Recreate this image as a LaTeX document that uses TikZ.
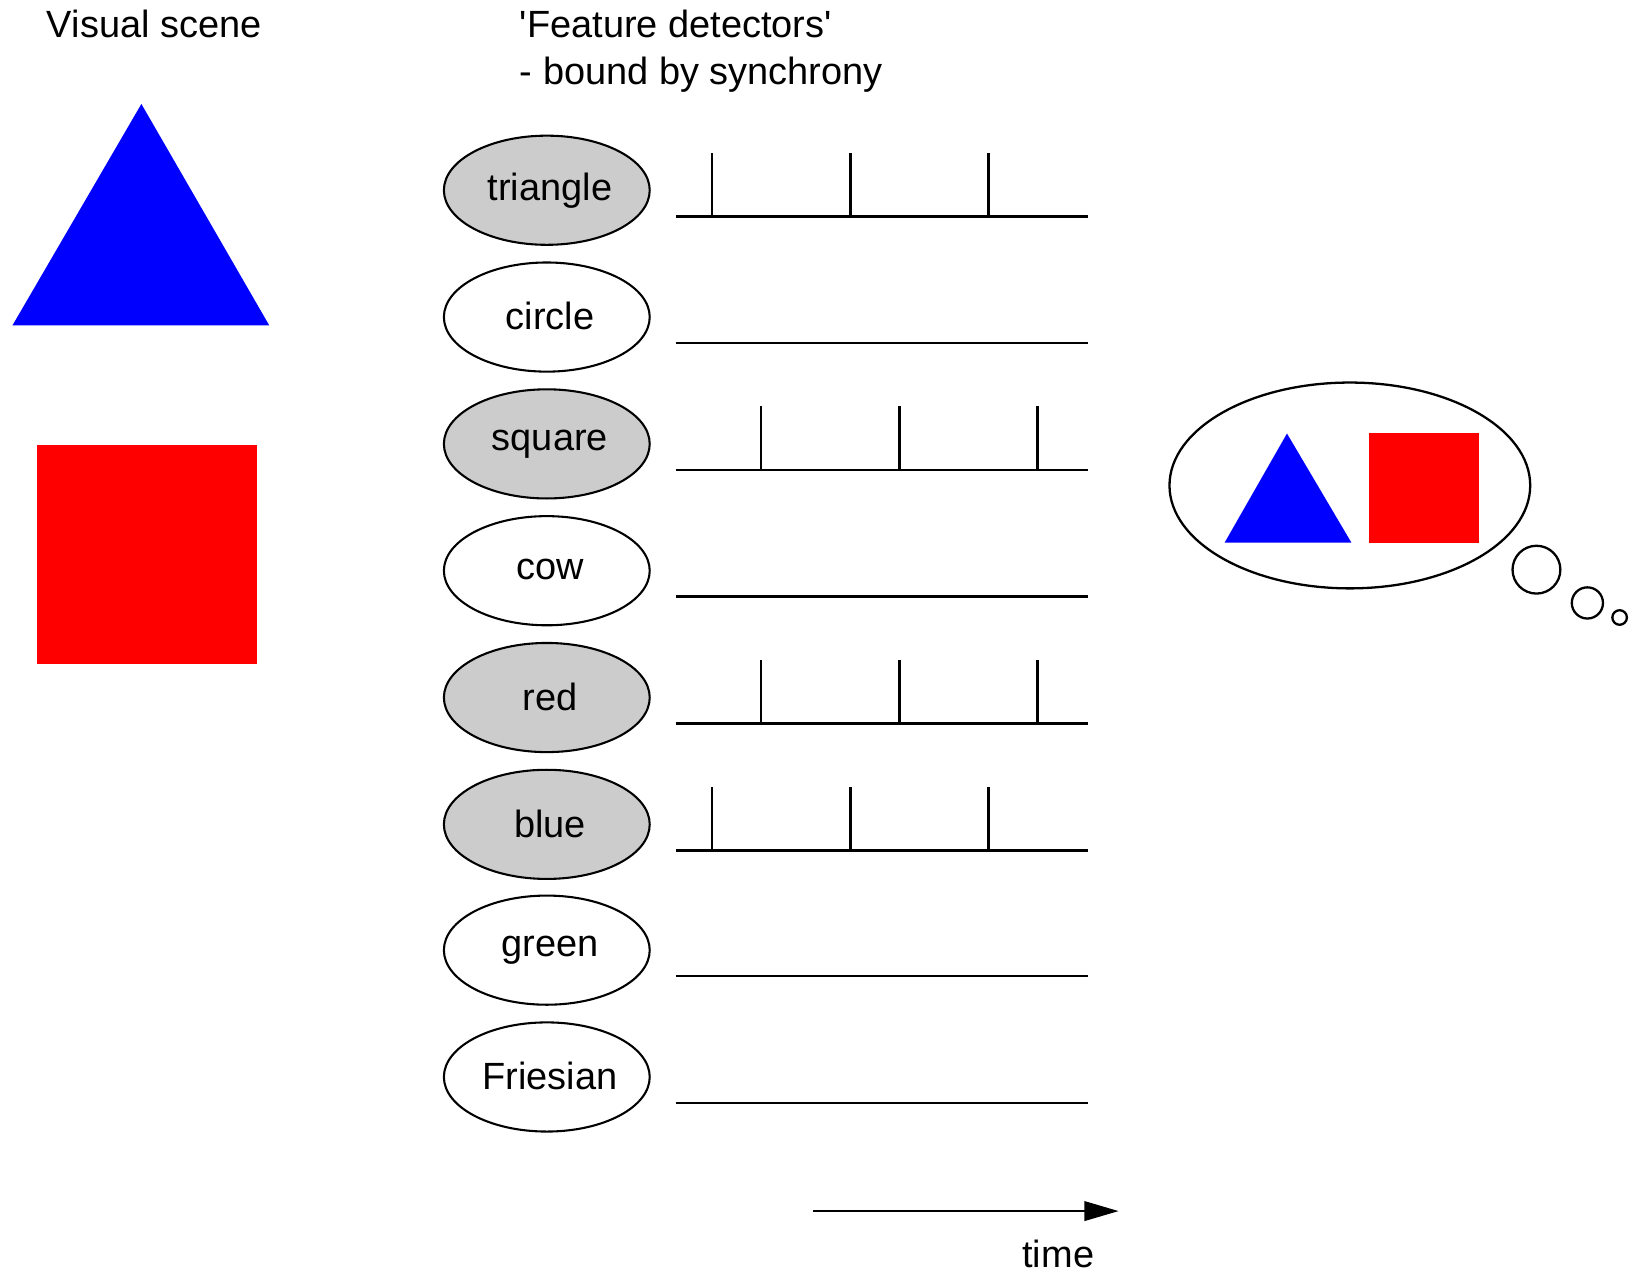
\documentclass[tikz,border=0pt]{standalone}
\usepackage{fontspec}
\setmainfont{Liberation Sans}
\usetikzlibrary{shapes.geometric,arrows.meta}
\tikzset{
  lbl/.style={font=\fontsize{36.5}{44}\selectfont, inner sep=0pt},
  det/.style={ellipse, draw=black, line width=2pt, minimum width=198pt, minimum height=105pt, inner sep=0pt, font=\fontsize{36.5}{44}\selectfont},
  on/.style={det, fill=black!20},
  off/.style={det, fill=white},
  trace/.style={line width=2.5pt, line cap=butt},
  bubble/.style={draw=black, line width=2.2pt, fill=white},
}
\begin{document}
\begin{tikzpicture}[x=1pt,y=-1pt]
\useasboundingbox (0,0) rectangle (1568,1225);
% titles
\node[lbl, anchor=base west] (vs) at (45,36) {Visual scene};
\node[lbl, anchor=base west] (fd1) at (500,36) {\textquotesingle Feature detectors\textquotesingle};
\node[lbl, anchor=base west] (fd2) at (500,81) {- bound by synchrony};
% visual scene
\fill[blue] (136,100) -- (259,313) -- (12,313) -- cycle;
\fill[red] (36,428) rectangle (247,639);
% detectors
\foreach \nm/\st/\y in {triangle/on/183, circle/off/305, square/on/427, cow/off/549, red/on/671, blue/on/793, green/off/914, Friesian/off/1036}{
  \node[\st] (d-\nm) at (526,\y) {\hspace*{6pt}\raisebox{2pt}{\nm}};
  \draw[trace] (650,\y+25) -- (1047,\y+25);
}
% spikes
\foreach \y in {183,793}{
  \foreach \x in {685,818,951}{
    \draw[trace] (\x,\y+25) -- (\x,\y-36);
  }
}
\foreach \y in {427,671}{
  \foreach \x in {732,865,998}{
    \draw[trace] (\x,\y+25) -- (\x,\y-36);
  }
}
% time arrow
\coordinate (t0) at (782,1165);
\coordinate (t1) at (1076,1165);
\draw[line width=1.5pt, -{Triangle[length=33pt,width=19pt]}] (t0) -- (t1);
\node[lbl, anchor=base] (time) at (1018,1219) {time};
% thought bubble
\node[ellipse, draw=black, line width=2.2pt, minimum width=347pt, minimum height=198pt, inner sep=0pt] (thought) at (1298.5,467) {};
\fill[blue] (1238,417) -- (1300,522) -- (1178,522) -- cycle;
\fill[red] (1317,417) rectangle (1423,522);
\node[circle, bubble, minimum size=46pt, inner sep=0pt] (b1) at (1478,548) {};
\node[circle, bubble, minimum size=30pt, inner sep=0pt] (b2) at (1527,580) {};
\node[circle, bubble, minimum size=14pt, inner sep=0pt] (b3) at (1558,594) {};
\end{tikzpicture}
\end{document}
